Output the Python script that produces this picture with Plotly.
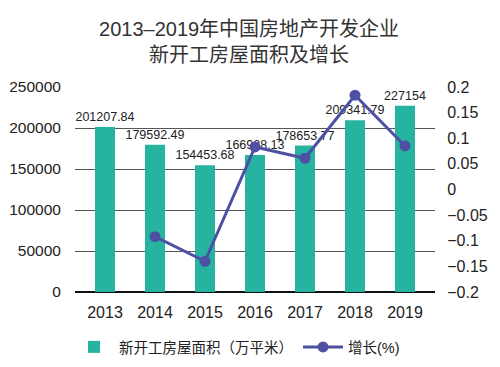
import plotly.graph_objects as go

years = ["2013", "2014", "2015", "2016", "2017", "2018", "2019"]
area = [201207.84, 179592.49, 154453.68, 166928.13, 178653.77, 209341.79, 227154]
area_labels = ["201207.84", "179592.49", "154453.68", "166928.13", "178653.77", "209341.79", "227154"]
growth_years = ["2014", "2015", "2016", "2017", "2018", "2019"]
growth = [-0.092, -0.14, 0.083, 0.061, 0.184, 0.085]

FONT = "Liberation Sans, Arial, Noto Sans CJK SC, sans-serif"
TEAL = "#26b4a0"
BLUE = "#4d50a3"

fig = go.Figure()
fig.add_trace(go.Bar(
    x=years, y=area, name="新开工房屋面积（万平米）",
    marker=dict(color=TEAL, line=dict(width=0)),
    width=0.4,
    text=area_labels, textposition="outside", constraintext="none",
    textfont=dict(size=12.5, color="#222", family=FONT),
    cliponaxis=False,
))
fig.add_trace(go.Scatter(
    x=growth_years, y=growth, name="增长(%)", yaxis="y2",
    mode="lines+markers",
    line=dict(color=BLUE, width=3),
    marker=dict(color=BLUE, size=11),
))

fig.update_layout(
    width=492, height=359,
    margin=dict(l=67, r=65, t=79, b=75, autoexpand=False),
    paper_bgcolor="white", plot_bgcolor="white",
    font=dict(family=FONT, color="#222", size=16),
    title=dict(
        text="2013–2019年中国房地产开发企业<br>新开工房屋面积及增长",
        x=0.49, xanchor="center", y=0.923, yanchor="top",
        font=dict(size=20, color="#333", family=FONT),
    ),
    showlegend=True,
    legend=dict(orientation="h", x=0.45, xanchor="center", y=-0.19, yanchor="top",
                font=dict(size=14.5, color="#222"), itemwidth=40, traceorder="normal"),
    xaxis=dict(type="category", range=[-0.6, 6.6], showgrid=False, automargin=False,
               showline=False, ticks="outside", ticklen=6, tickcolor="rgba(0,0,0,0)",
               tickfont=dict(size=16)),
    yaxis=dict(range=[0, 250000], dtick=50000, tickformat="d", showgrid=True,
               gridcolor="#555", gridwidth=1, automargin=False,
               zeroline=True, zerolinecolor="#111", zerolinewidth=2,
               ticks="outside", ticklen=10, tickcolor="rgba(0,0,0,0)",
               tickfont=dict(size=15.5), showline=False),
    yaxis2=dict(range=[-0.2, 0.2], dtick=0.05, overlaying="y", side="right",
                showgrid=False, zeroline=False, ticks="outside", ticklen=8, automargin=False,
                tickcolor="rgba(0,0,0,0)", tickfont=dict(size=16), showline=False),
    bargap=0.6,
)

fig.write_html("out.html")
